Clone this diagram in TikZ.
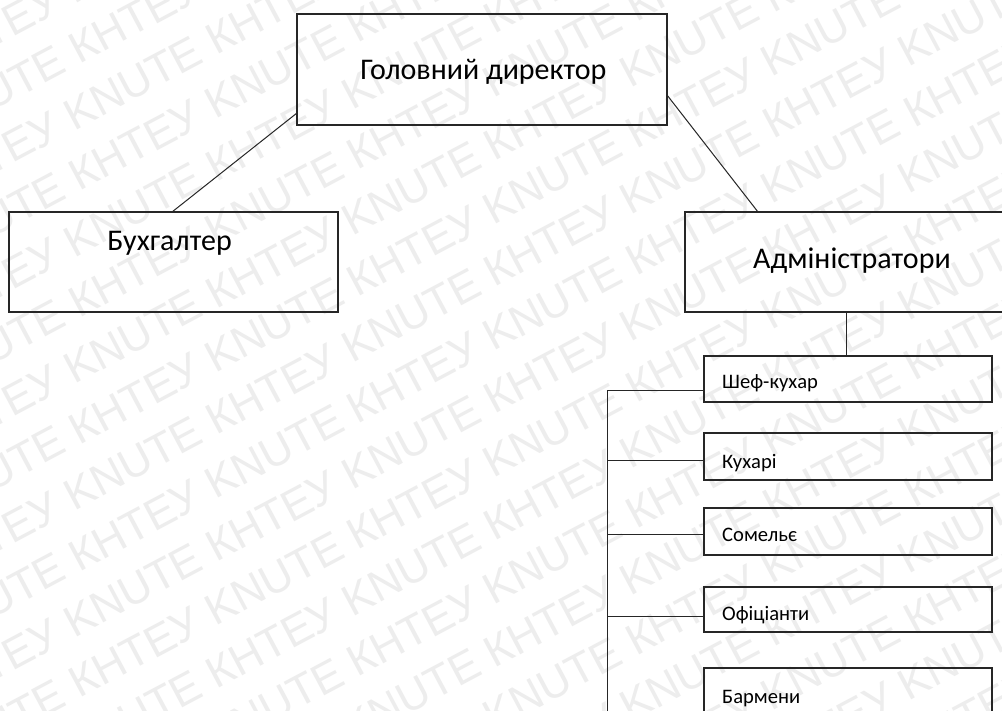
\documentclass[tikz,border=0pt]{standalone}
\usepackage{fontspec}
\setmainfont{Carlito}
\newfontfamily\wmfont{Liberation Sans}
\usetikzlibrary{calc}

\tikzset{
  orgbox/.style={draw=black!85, line width=1.1pt, rectangle, inner sep=0pt, outer sep=0pt},
  bigtext/.style={font=\fontsize{30}{34}\selectfont, inner sep=0pt, anchor=base},
  smalltext/.style={font=\fontsize{20.6}{24}\selectfont, inner sep=0pt, anchor=base west},
  wire/.style={draw=black!85, line width=1pt},
  wmark/.style={font=\wmfont\fontsize{44}{44}\selectfont, text=black!7, rotate=28, anchor=base west, inner sep=0pt},
}

\begin{document}
\begin{tikzpicture}[x=1pt, y=-1pt]
  \useasboundingbox (0,0) rectangle (1002,711);
  \clip (0,0) rectangle (1002,711);
  \fill[white] (0,0) rectangle (1002,711);

  % diagonal background lettering
  \foreach \r in {0,...,23} {
    \pgfmathsetmacro\yy{-40+\r*63.4}
    \pgfmathsetmacro\ss{mod(\r,2)*160+160}
    \node[wmark] (wm\r) at ({-200-\ss*cos(28)},{\yy+\ss*sin(28)})
      {KNUTE КНТЕУ KNUTE КНТЕУ KNUTE КНТЕУ KNUTE КНТЕУ KNUTE КНТЕУ KNUTE КНТЕУ};
  }

  % boxes
  \node[orgbox, minimum width=370pt, minimum height=111pt] (gd)   at (482,69.5) {};
  \node[orgbox, minimum width=329pt, minimum height=100pt] (bukh) at (173.5,262) {};
  \node[orgbox, minimum width=327pt, minimum height=100pt] (adm)  at (848.5,262) {};
  \node[orgbox, minimum width=288pt, minimum height=46pt]  (shef) at (848,379) {};
  \node[orgbox, minimum width=288pt, minimum height=47pt]  (kuh)  at (848,456.5) {};
  \node[orgbox, minimum width=288pt, minimum height=47pt]  (som)  at (848,531.5) {};
  \node[orgbox, minimum width=288pt, minimum height=45pt]  (ofic) at (848,609.5) {};
  \node[orgbox, minimum width=288pt, minimum height=72pt]  (barm) at (848,704) {};

  % labels
  \node[bigtext] (gdt)   at (483.4,80)   {Головний директор};
  \node[bigtext] (bukht) at (169.5,250.3) {Бухгалтер};
  \node[bigtext] (admt)  at (852,268.5) {Адміністратори};
  \node[smalltext] (sheft) at (722,388.7) {Шеф-кухар};
  \node[smalltext] (kuht)  at (722,468)   {Кухарі};
  \node[smalltext] (somt)  at (722,541.7) {Сомельє};
  \node[smalltext] (ofict) at (722,620.7) {Офіціанти};
  \node[smalltext] (barmt) at (722,703)   {Бармени};

  % connectors
  \draw[wire] ($(gd.south west)+(0,-12)$) -- ($(bukh.north west)+(163,0)$);
  \draw[wire] ($(gd.north east)+(0,81)$) -- ($(adm.north west)+(73,0)$);
  \draw[wire] ($(adm.south west)+(161,0)$) -- ($(shef.north west)+(142,0)$);

  \coordinate (bus1) at (607,391);
  \coordinate (bus2) at (607,460);
  \coordinate (bus3) at (607,534);
  \coordinate (bus4) at (607,616);
  \coordinate (busend) at (607,720);
  \draw[wire] (bus1) -- (busend);
  \draw[wire] (bus1) -- (bus1 -| shef.west);
  \draw[wire] (bus2) -- (bus2 -| kuh.west);
  \draw[wire] (bus3) -- (bus3 -| som.west);
  \draw[wire] (bus4) -- (bus4 -| ofic.west);
\end{tikzpicture}
\end{document}
